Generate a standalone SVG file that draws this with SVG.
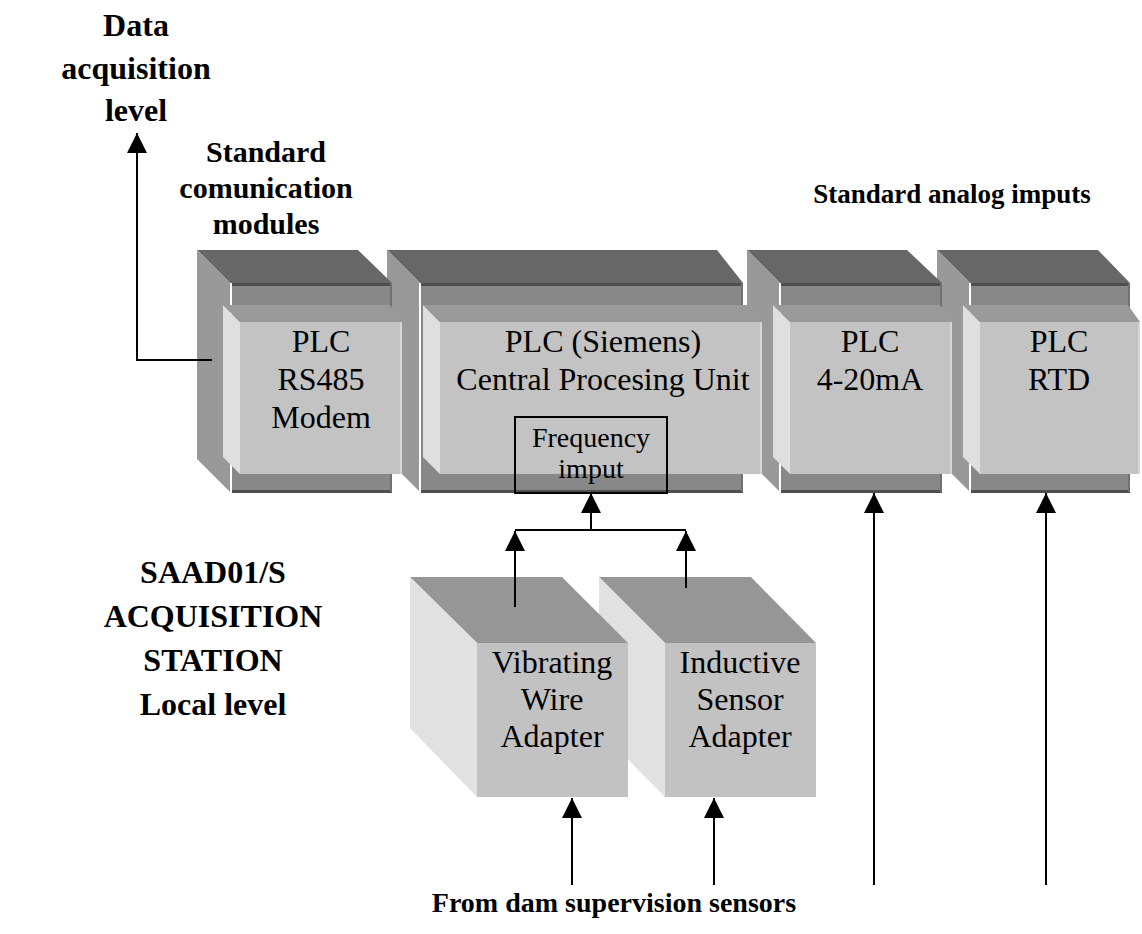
<svg xmlns="http://www.w3.org/2000/svg" width="1142" height="934" viewBox="0 0 1142 934">
  <defs>
    <style>
      text { font-family: "Liberation Serif", "Times New Roman", serif; fill: #000; text-anchor: middle; }
      .h { font-weight: bold; }
      .lbl { font-size: 32px; }
      .small { font-size: 28px; }
      .bk-top { fill: #676767; }
      .bk-side { fill: #999999; }
      .bk-front { fill: #888888; }
      .edge-dark { stroke: #4e4e4e; stroke-width: 3; }
      .edge-right { stroke: #707070; stroke-width: 2; }
      .edge-light { stroke: #ffffff; stroke-width: 2; }
      .in-top { fill: #9a9a9a; }
      .in-side { fill: #dfdfdf; }
      .in-front { fill: #c3c3c3; }
      .in-rim { stroke: #d6d6d6; stroke-width: 2; }
      .ad-top { fill: #969696; }
      .ad-side { fill: #e1e1e1; }
      .ad-front { fill: #c2c2c2; }
      .wire { stroke: #000; stroke-width: 2; fill: none; }
    </style>
    <marker id="arrow" viewBox="0 0 20 20" refX="20" refY="10" markerWidth="20" markerHeight="20" markerUnits="userSpaceOnUse" orient="auto">
      <path d="M0,0 L20,10 L0,20 Z" fill="#000"/>
    </marker>
  </defs>

  <rect width="1142" height="934" fill="#fff"/>

  <!-- Headings -->
  <g id="title-data-level" class="h" style="font-size:32px">
    <text x="136" y="36">Data</text>
    <text x="136" y="79">acquisition</text>
    <text x="136" y="121">level</text>
  </g>
  <g id="title-comm-modules" class="h" style="font-size:30px">
    <text x="266" y="162">Standard</text>
    <text x="266" y="198">comunication</text>
    <text x="266" y="234">modules</text>
  </g>
  <g id="title-analog" class="h" style="font-size:27px">
    <text x="952" y="203">Standard analog imputs</text>
  </g>
  <g id="title-station" class="h" style="font-size:32px">
    <text x="213" y="583">SAAD01/S</text>
    <text x="213" y="627">ACQUISITION</text>
    <text x="213" y="671">STATION</text>
    <text x="213" y="715">Local level</text>
  </g>
  <g id="title-sensors" class="h small">
    <text x="614" y="912">From dam supervision sensors</text>
  </g>

  <!-- PLC rack modules, drawn right to left so each left module sits in front -->
  <g id="plc-rtd">
    <polygon class="bk-top" points="937,250 1098,250 1130,283 970,283"/>
    <polygon class="bk-side" points="937,250 970,283 970,492 937,459"/>
    <rect class="bk-front" x="970" y="283" width="160" height="209"/>
    <line class="edge-dark" x1="971" y1="284.5" x2="1130" y2="284.5"/>
    <line class="edge-dark" x1="971" y1="491.5" x2="1130" y2="491.5"/>
    <line class="edge-right" x1="1129" y1="283" x2="1129" y2="492"/>
    <line class="edge-light" x1="970" y1="283" x2="970" y2="492"/>
    <polygon class="in-side" points="963,305 980,322 980,474 963,457"/>
    <polygon class="in-top" points="963,305 1128,305 1140,322 980,322"/>
    <rect class="in-front" x="980" y="322" width="160" height="152"/>
    <line class="in-rim" x1="1139" y1="322" x2="1139" y2="474"/>
    <text class="lbl" x="1059" y="352">PLC</text>
    <text class="lbl" x="1059" y="390">RTD</text>
  </g>

  <g id="plc-4-20ma">
    <polygon class="bk-top" points="747,250 907,250 942,283 780,283"/>
    <polygon class="bk-side" points="747,250 780,283 780,492 747,459"/>
    <rect class="bk-front" x="780" y="283" width="162" height="209"/>
    <line class="edge-dark" x1="781" y1="284.5" x2="942" y2="284.5"/>
    <line class="edge-dark" x1="781" y1="491.5" x2="942" y2="491.5"/>
    <line class="edge-right" x1="941" y1="283" x2="941" y2="492"/>
    <line class="edge-light" x1="780" y1="283" x2="780" y2="492"/>
    <polygon class="in-side" points="773,305 790,322 790,474 773,457"/>
    <polygon class="in-top" points="773,305 940,305 952,322 790,322"/>
    <rect class="in-front" x="790" y="322" width="162" height="152"/>
    <line class="in-rim" x1="951" y1="322" x2="951" y2="474"/>
    <text class="lbl" x="870" y="352">PLC</text>
    <text class="lbl" x="870" y="390">4-20mA</text>
  </g>

  <g id="plc-cpu">
    <polygon class="bk-top" points="387,250 717,250 743,283 420,283"/>
    <polygon class="bk-side" points="387,250 420,283 420,492 387,459"/>
    <rect class="bk-front" x="420" y="283" width="323" height="209"/>
    <line class="edge-dark" x1="421" y1="284.5" x2="743" y2="284.5"/>
    <line class="edge-dark" x1="421" y1="491.5" x2="743" y2="491.5"/>
    <line class="edge-right" x1="742" y1="283" x2="742" y2="492"/>
    <line class="edge-light" x1="420" y1="283" x2="420" y2="492"/>
    <polygon class="in-side" points="423,305 440,322 440,474 423,457"/>
    <polygon class="in-top" points="423,305 750,305 762,322 440,322"/>
    <rect class="in-front" x="440" y="322" width="322" height="152"/>
    <line class="in-rim" x1="761" y1="322" x2="761" y2="474"/>
    <text class="lbl" x="603" y="352">PLC (Siemens)</text>
    <text class="lbl" x="603" y="390">Central Procesing Unit</text>
  </g>

  <g id="plc-rs485">
    <polygon class="bk-top" points="197,250 358,250 392,283 230,283"/>
    <polygon class="bk-side" points="197,250 230,283 230,492 197,459"/>
    <rect class="bk-front" x="230" y="283" width="162" height="209"/>
    <line class="edge-dark" x1="232" y1="284.5" x2="392" y2="284.5"/>
    <line class="edge-dark" x1="232" y1="491.5" x2="392" y2="491.5"/>
    <line class="edge-right" x1="391" y1="283" x2="391" y2="492"/>
    <line class="edge-light" x1="231" y1="283" x2="231" y2="492"/>
    <polygon class="in-side" points="223,305 240,322 240,474 223,457"/>
    <polygon class="in-top" points="223,305 390,305 402,322 240,322"/>
    <rect class="in-front" x="240" y="322" width="162" height="152"/>
    <line class="in-rim" x1="401" y1="322" x2="401" y2="474"/>
    <text class="lbl" x="321" y="352">PLC</text>
    <text class="lbl" x="321" y="390">RS485</text>
    <text class="lbl" x="321" y="428">Modem</text>
  </g>

  <!-- Frequency input block on the CPU front -->
  <g id="frequency-input">
    <rect x="515" y="417" width="152" height="76" fill="none" stroke="#000" stroke-width="2"/>
    <text x="591" y="447" style="font-size:28px">Frequency</text>
    <text x="591" y="478" style="font-size:28px">imput</text>
  </g>

  <!-- Sensor adapters -->
  <g id="adapter-inductive">
    <polygon class="ad-top" points="599,577 751,577 816,643 665,643"/>
    <polygon class="ad-side" points="599,577 665,643 665,797 599,730"/>
    <rect class="ad-front" x="665" y="643" width="151" height="154"/>
    <text class="lbl" x="740" y="673">Inductive</text>
    <text class="lbl" x="740" y="710">Sensor</text>
    <text class="lbl" x="740" y="747">Adapter</text>
  </g>
  <g id="adapter-vibrating">
    <polygon class="ad-top" points="410,577 562,577 628,643 477,643"/>
    <polygon class="ad-side" points="410,577 477,643 477,797 410,728"/>
    <rect class="ad-front" x="477" y="643" width="151" height="154"/>
    <text class="lbl" x="552" y="673">Vibrating</text>
    <text class="lbl" x="552" y="710">Wire</text>
    <text class="lbl" x="552" y="747">Adapter</text>
  </g>

  <!-- Connectors -->
  <g id="connectors" class="wire">
    <path d="M212,360 H137 V133" marker-end="url(#arrow)"/>
    <path d="M591,530 V493" marker-end="url(#arrow)"/>
    <path d="M515,530 H686"/>
    <path d="M515,607 V531" marker-end="url(#arrow)"/>
    <path d="M686,588 V531" marker-end="url(#arrow)"/>
    <path d="M572,885 V798" marker-end="url(#arrow)"/>
    <path d="M714,885 V798" marker-end="url(#arrow)"/>
    <path d="M874,885 V493" marker-end="url(#arrow)"/>
    <path d="M1046,885 V493" marker-end="url(#arrow)"/>
  </g>
</svg>
